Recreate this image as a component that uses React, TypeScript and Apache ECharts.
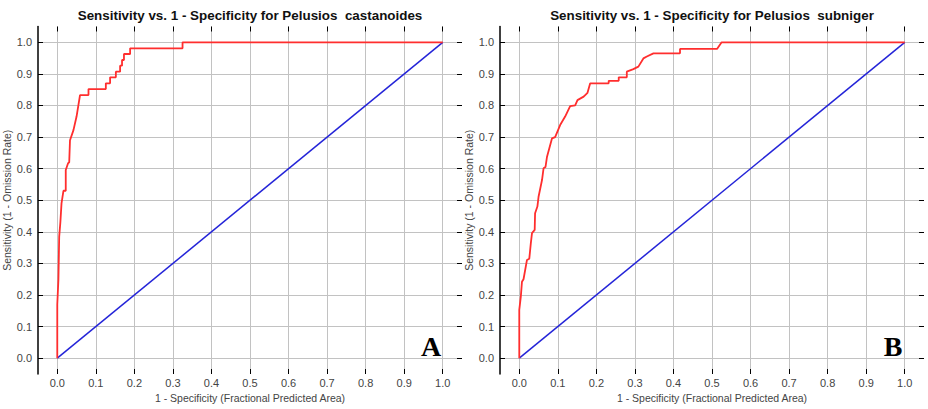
import React, { useEffect, useRef } from "react";
import * as echarts from "echarts";

const tickValues = [0, 0.1, 0.2, 0.3, 0.4, 0.5, 0.6, 0.7, 0.8, 0.9, 1.0];
const titles = [
  "Sensitivity vs. 1 - Specificity for Pelusios  castanoides",
  "Sensitivity vs. 1 - Specificity for Pelusios  subniger",
];
const panelLetters = ["A", "B"];
const xAxisName = "1 - Specificity (Fractional Predicted Area)";
const yAxisName = "Sensitivity (1 - Omission Rate)";

const castanoidesFPR = [0, 0, 0.003, 0.005, 0.008, 0.011, 0.016, 0.022, 0.022, 0.028, 0.031, 0.033, 0.042, 0.05, 0.059, 0.081, 0.081, 0.126, 0.126, 0.137, 0.137, 0.152, 0.152, 0.163, 0.163, 0.168, 0.168, 0.173, 0.173, 0.189, 0.189, 0.325, 0.325, 1.0];
const castanoidesSens = [0, 0.17, 0.25, 0.385, 0.43, 0.49, 0.53, 0.53, 0.596, 0.617, 0.62, 0.69, 0.722, 0.765, 0.833, 0.833, 0.852, 0.852, 0.87, 0.87, 0.889, 0.889, 0.907, 0.907, 0.926, 0.926, 0.944, 0.944, 0.963, 0.963, 0.981, 0.981, 1.0, 1.0];

const subnigerFPR = [0, 0, 0.004, 0.007, 0.011, 0.02, 0.026, 0.03, 0.033, 0.04, 0.041, 0.047, 0.05, 0.059, 0.063, 0.068, 0.072, 0.085, 0.093, 0.106, 0.119, 0.132, 0.145, 0.151, 0.167, 0.177, 0.184, 0.232, 0.232, 0.258, 0.258, 0.279, 0.279, 0.296, 0.309, 0.322, 0.331, 0.348, 0.417, 0.417, 0.513, 0.525, 1.0];
const subnigerSens = [0, 0.153, 0.195, 0.242, 0.25, 0.311, 0.315, 0.364, 0.396, 0.406, 0.459, 0.48, 0.511, 0.564, 0.601, 0.605, 0.638, 0.696, 0.70, 0.738, 0.765, 0.798, 0.80, 0.817, 0.828, 0.84, 0.87, 0.87, 0.878, 0.878, 0.889, 0.889, 0.907, 0.915, 0.923, 0.949, 0.955, 0.965, 0.965, 0.979, 0.979, 1.0, 1.0];

const diagonalX = [0, 1];
const diagonalY = [0, 1];

const zip = (xs: number[], ys: number[]) => xs.map((x, i) => [x, ys[i]]);

const FONT = "'Liberation Sans', Arial, sans-serif";

export default function App() {
  const ref = useRef<HTMLDivElement>(null);
  useEffect(() => {
    if (!ref.current) return;
    const chart = echarts.init(ref.current, null, { renderer: "svg" });
    const gridLefts = [38, 500];
    const grids = gridLefts.map((l) => ({ left: l, top: 26.5, width: 424, height: 347.5 }));
    const common = {
      type: "value",
      min: -0.05,
      max: 1.05,
      axisLine: { onZero: false },
    };
    const xAxes: any[] = [];
    const yAxes: any[] = [];
    [0, 1].forEach((g) => {
      xAxes.push({
        ...common,
        gridIndex: g,
        position: "bottom",
        axisLine: { show: false, onZero: false },
        axisTick: { show: true, inside: true, length: 5, customValues: tickValues, lineStyle: { color: "#000", width: 1 } },
        axisLabel: {
          customValues: tickValues,
          formatter: (v: number) => v.toFixed(1),
          color: "#444",
          fontSize: 11,
          fontFamily: FONT,
          margin: 3,
        },
        splitLine: { show: true, lineStyle: { color: "#c2c2c2", width: 1 } },
        name: xAxisName,
        nameLocation: "middle",
        nameGap: 17,
        nameTextStyle: { color: "#444", fontSize: 10.5, fontFamily: FONT },
      });
      xAxes.push({
        ...common,
        gridIndex: g,
        position: "top",
        axisLine: { show: false, onZero: false },
        axisTick: { show: true, inside: true, length: 5, customValues: tickValues, lineStyle: { color: "#000", width: 1 } },
        axisLabel: { show: false },
        splitLine: { show: false },
      });
      yAxes.push({
        ...common,
        gridIndex: g,
        position: "left",
        axisLine: { show: true, onZero: false, lineStyle: { color: "#000", width: 1.5 } },
        axisTick: { show: true, inside: true, length: 5, customValues: tickValues, lineStyle: { color: "#000", width: 1 } },
        axisLabel: {
          customValues: tickValues,
          formatter: (v: number) => v.toFixed(1),
          color: "#444",
          fontSize: 11,
          fontFamily: FONT,
          margin: 6,
        },
        splitLine: { show: true, lineStyle: { color: "#c2c2c2", width: 1 } },
        name: yAxisName,
        nameLocation: "middle",
        nameGap: 20,
        nameTextStyle: { color: "#444", fontSize: 10.5, fontFamily: FONT },
      });
      yAxes.push({
        ...common,
        gridIndex: g,
        position: "right",
        axisLine: { show: false, onZero: false },
        axisTick: { show: true, inside: true, length: 5, customValues: tickValues, lineStyle: { color: "#000", width: 1 } },
        axisLabel: { show: false },
        splitLine: { show: false },
      });
    });

    const curves = [zip(castanoidesFPR, castanoidesSens), zip(subnigerFPR, subnigerSens)];
    const series: any[] = [];
    [0, 1].forEach((g) => {
      series.push({
        type: "line",
        xAxisIndex: 2 * g,
        yAxisIndex: 2 * g,
        data: zip(diagonalX, diagonalY),
        showSymbol: false,
        lineStyle: { color: "#2424d8", width: 1.5 },
        z: 2,
      });
      series.push({
        type: "line",
        xAxisIndex: 2 * g,
        yAxisIndex: 2 * g,
        data: curves[g],
        showSymbol: false,
        lineStyle: { color: "#ff2e2e", width: 1.8 },
        z: 3,
      });
    });

    const graphics: any[] = [];
    [0, 1].forEach((g) => {
      graphics.push({
        type: "text",
        x: gridLefts[g] + 212,
        y: 15,
        style: { text: titles[g], font: `bold 13.4px ${FONT}`, fill: "#111", align: "center", verticalAlign: "middle" },
      });
      graphics.push({
        type: "text",
        x: gridLefts[g] + 393,
        y: 346,
        style: { text: panelLetters[g], font: "bold 28px 'Liberation Serif', 'Times New Roman', serif", fill: "#000", align: "center", verticalAlign: "middle" },
      });
    });

    chart.setOption({
      animation: false,
      backgroundColor: "#fff",
      grid: grids,
      xAxis: xAxes,
      yAxis: yAxes,
      series,
      graphic: graphics,
    });
    return () => chart.dispose();
  }, []);
  return <div ref={ref} style={{ position: "fixed", left: 0, top: 0, width: 928, height: 409 }} />;
}
